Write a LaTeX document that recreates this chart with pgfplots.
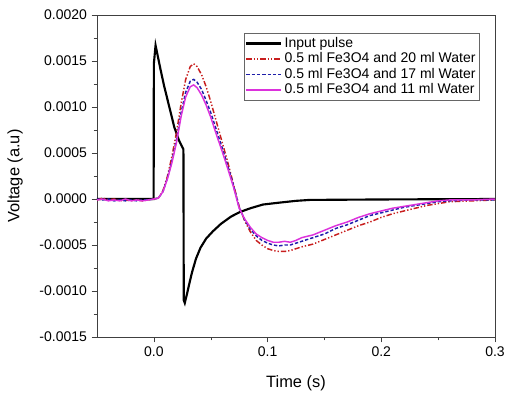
\documentclass[border=0pt]{standalone}
\usepackage{fontspec}
\setmainfont{Liberation Sans}
\usepackage{pgfplots}
\usepackage{pgfplotstable}
\pgfplotsset{compat=1.18}
\definecolor{cred}{RGB}{200,30,30}
\definecolor{cblue}{RGB}{30,30,170}
\definecolor{cmag}{RGB}{220,50,220}

\pgfplotstableread{
t v
-0.05 0
-0.02 0
-0.0002 0
0.0 0.00147
0.0015 0.00167
0.003 0.00158
0.006 0.00140
0.009 0.00123
0.012 0.00108
0.015 0.00093
0.018 0.00078
0.022 0.00064
0.026 0.00054
0.0263 -0.00110
0.0272 -0.00113
0.029 -0.00104
0.031 -0.00093
0.0335 -0.00080
0.037 -0.00065
0.041 -0.00053
0.046 -0.00043
0.052 -0.00035
0.059 -0.00027
0.068 -0.00019
0.076 -0.00014
0.085 -0.00010
0.096 -0.00006
0.11 -0.00004
0.125 -0.00002
0.137 -0.00001
0.2 -0.000005
0.3 0
}\tabpulse

\pgfplotstableread{
t v
-0.05 -0.00001
-0.045 0.00001
-0.04 -0.00001
-0.035 0.00000
-0.03 -0.00002
-0.025 -0.00001
-0.02 -0.00002
-0.015 -0.00001
-0.01 -0.00002
-0.005 -0.00001
0.0 0.0
0.004 0.00001
0.008 0.00009
0.012 0.00025
0.016 0.00047
0.020 0.00073
0.024 0.00104
0.028 0.00130
0.032 0.00144
0.035 0.00147
0.038 0.00144
0.042 0.00135
0.046 0.00122
0.050 0.00106
0.055 0.00084
0.060 0.00062
0.065 0.00040
0.070 0.00016
0.075 -0.00008
0.080 -0.00024
0.085 -0.00036
0.090 -0.00045
0.095 -0.00050
0.100 -0.00054
0.105 -0.00056
0.110 -0.00057
0.115 -0.00057
0.120 -0.00056
0.130 -0.00052
0.140 -0.00049
0.150 -0.00044
0.160 -0.00039
0.170 -0.00034
0.180 -0.00029
0.190 -0.00025
0.200 -0.00020
0.210 -0.00016
0.220 -0.00013
0.230 -0.00010
0.240 -0.00007
0.250 -0.00005
0.260 -0.00003
0.280 -0.00002
0.300 -0.00001
}\tabred

\pgfplotstableread{
t v
-0.05 0.00000
-0.045 -0.00001
-0.04 0.00000
-0.035 -0.00002
-0.03 -0.00001
-0.025 -0.00002
-0.02 -0.00001
-0.015 -0.00002
-0.01 -0.00001
-0.005 -0.00001
0.0 0.0
0.004 0.00001
0.008 0.00008
0.012 0.00023
0.016 0.00042
0.020 0.00065
0.024 0.00094
0.028 0.00116
0.032 0.00128
0.035 0.00130
0.038 0.00127
0.042 0.00119
0.046 0.00107
0.050 0.00094
0.055 0.00075
0.060 0.00056
0.065 0.00036
0.070 0.00015
0.075 -0.00009
0.080 -0.00023
0.085 -0.00033
0.090 -0.00040
0.095 -0.00045
0.100 -0.00048
0.105 -0.00050
0.110 -0.00051
0.115 -0.00050
0.120 -0.00050
0.130 -0.00046
0.140 -0.00042
0.150 -0.00038
0.160 -0.00032
0.170 -0.00028
0.180 -0.00023
0.190 -0.00018
0.200 -0.00015
0.210 -0.00012
0.220 -0.00009
0.230 -0.00007
0.240 -0.00005
0.250 -0.00003
0.260 -0.00002
0.280 -0.00001
0.300 -0.00001
}\tabblue

\pgfplotstableread{
t v
-0.05 -0.00001
-0.045 0.00000
-0.04 -0.00002
-0.035 -0.00001
-0.03 -0.00002
-0.025 0.00000
-0.02 -0.00002
-0.015 -0.00001
-0.01 -0.00002
-0.005 -0.00001
0.0 0.0
0.004 0.00001
0.008 0.00008
0.012 0.00022
0.016 0.00040
0.020 0.00062
0.024 0.00090
0.028 0.00111
0.032 0.00122
0.035 0.00124
0.038 0.00121
0.042 0.00113
0.046 0.00102
0.050 0.00089
0.055 0.00070
0.060 0.00052
0.065 0.00033
0.070 0.00013
0.075 -0.00010
0.080 -0.00022
0.085 -0.00031
0.090 -0.00038
0.095 -0.00042
0.100 -0.00045
0.105 -0.00047
0.110 -0.00047
0.115 -0.00046
0.120 -0.00047
0.125 -0.00045
0.130 -0.00042
0.140 -0.00039
0.150 -0.00034
0.160 -0.00029
0.170 -0.00025
0.180 -0.00020
0.190 -0.00016
0.200 -0.00013
0.210 -0.00010
0.220 -0.00008
0.230 -0.00006
0.240 -0.00004
0.250 -0.00002
0.260 -0.00001
0.280 -0.00001
0.300 0.00000
}\tabmag

\begin{document}
\begin{tikzpicture}[x=0.75pt,y=0.75pt]
\useasboundingbox (-97,-59) rectangle (408,337);
\begin{axis}[
  at={(0,0)}, anchor=south west,
  scale only axis,
  width=298.5pt, height=241.5pt,
  xmin=-0.05, xmax=0.3,
  ymin=-0.0015, ymax=0.002,
  xtick={0,0.1,0.2,0.3},
  ytick={-0.0015,-0.001,-0.0005,0,0.0005,0.001,0.0015,0.002},
  minor x tick num=1, minor y tick num=1,
  tick align=outside,
  xtick pos=left, ytick pos=left,
  major tick length=4pt, minor tick length=2.5pt,
  axis line style={black!75},
  tick style={black!75},
  scaled y ticks=false, scaled x ticks=false,
  /pgf/number format/assume math mode=true,
  ticklabel style={font=\fontsize{10.5}{12}\selectfont},
  y tick label style={/pgf/number format/.cd, fixed, fixed zerofill, precision=4},
  x tick label style={/pgf/number format/.cd, fixed, fixed zerofill, precision=1},
  xlabel={Time (s)}, ylabel={Voltage (a.u)},
  label style={font=\fontsize{12.3}{14}\selectfont},
  xlabel style={at={(axis description cs:0.5,-0.145)}, anchor=center},
  ylabel style={at={(axis description cs:-0.206,0.5)}, anchor=center, rotate=0},
  legend style={at={(0.962,0.944)}, anchor=north east, draw=black!60, line width=0.5pt,
    font=\fontsize{10.5}{10}\selectfont, inner sep=1pt, row sep=-1.5pt,
    cells={anchor=west}},
  legend image code/.code={\draw[#1] (0pt,0pt) -- (26pt,0pt);},
]
\addplot[black, line width=1.6pt] table[x=t,y=v] {\tabpulse};
\addlegendentry{Input pulse}
\addplot[cred, line width=1.1pt, dash pattern=on 4pt off 1.5pt on 1pt off 1.5pt on 1pt off 1.5pt] table[x=t,y=v] {\tabred};
\addlegendentry{0.5 ml Fe3O4 and 20 ml Water}
\addplot[cblue, line width=1.1pt, dash pattern=on 2.5pt off 1.5pt] table[x=t,y=v] {\tabblue};
\addlegendentry{0.5 ml Fe3O4 and 17 ml Water}
\addplot[cmag, line width=1.1pt] table[x=t,y=v] {\tabmag};
\addlegendentry{0.5 ml Fe3O4 and 11 ml Water}
\end{axis}
\end{tikzpicture}
\end{document}
